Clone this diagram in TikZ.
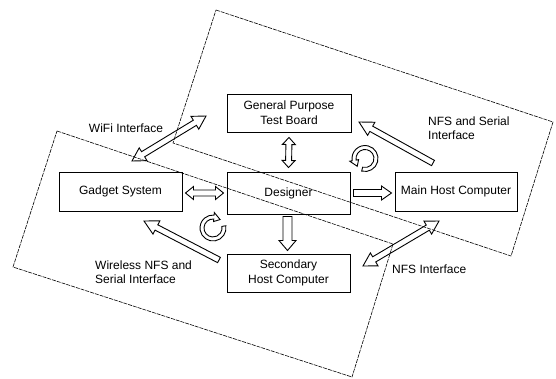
\documentclass[tikz,border=0pt]{standalone}
\usepackage{fontspec}
\setmainfont{Liberation Sans}
\usetikzlibrary{calc}
\begin{document}
\begin{tikzpicture}[x=1pt,y=-1pt,
  box/.style={draw, line width=1pt, inner sep=0pt, align=center, font=\fontsize{12}{15}\selectfont},
  lbl/.style={inner sep=0pt, align=left, font=\fontsize{12}{14}\selectfont},
  zone/.style={line width=0.6pt, dash pattern=on 4pt off 1pt},
  blk/.style={draw, line width=0.9pt},
  sarr/.style n args={3}{to path={let \p1=($(\tikztotarget)-(\tikztostart)$), \n1={veclen(\x1,\y1)}, \n2={atan2(\y1,\x1)} in
    ($(\tikztostart)+(\n2+90:#1)$) -- ($(\tikztostart)+(\n2:\n1-#3)+(\n2+90:#1)$) -- ($(\tikztostart)+(\n2:\n1-#3)+(\n2+90:#2)$) -- (\tikztotarget) -- ($(\tikztostart)+(\n2:\n1-#3)+(\n2-90:#2)$) -- ($(\tikztostart)+(\n2:\n1-#3)+(\n2-90:#1)$) -- ($(\tikztostart)+(\n2-90:#1)$) -- cycle}},
  darr/.style n args={3}{to path={let \p1=($(\tikztotarget)-(\tikztostart)$), \n1={veclen(\x1,\y1)}, \n2={atan2(\y1,\x1)} in
    (\tikztostart) -- ($(\tikztostart)+(\n2:#3)+(\n2+90:#2)$) -- ($(\tikztostart)+(\n2:#3)+(\n2+90:#1)$) -- ($(\tikztostart)+(\n2:\n1-#3)+(\n2+90:#1)$) -- ($(\tikztostart)+(\n2:\n1-#3)+(\n2+90:#2)$) -- (\tikztotarget) -- ($(\tikztostart)+(\n2:\n1-#3)+(\n2-90:#2)$) -- ($(\tikztostart)+(\n2:\n1-#3)+(\n2-90:#1)$) -- ($(\tikztostart)+(\n2:#3)+(\n2-90:#1)$) -- ($(\tikztostart)+(\n2:#3)+(\n2-90:#2)$) -- cycle}}
]
\useasboundingbox (0,0) rectangle (556,378);

% zones
\draw[zone] (216,10) -- (553,122) -- (511,256) -- (173,143) -- cycle;
\draw[zone] (57,131) -- (393,244) -- (352,377) -- (13,267) -- cycle;

% boxes
\node[box, minimum width=124pt, minimum height=38pt] (gptb) at (289,113) {General Purpose\\Test Board};
\node[box, minimum width=123pt, minimum height=42pt] (designer) at (288.5,193) {Designer};
\node[box, minimum width=123pt, minimum height=39pt] (gadget) at (120.5,191.5) {Gadget System};
\node[box, minimum width=122pt, minimum height=39pt] (main) at (456,191.5) {Main Host Computer};
\node[box, minimum width=123pt, minimum height=38pt] (secondary) at (288.5,273) {Secondary\\Host Computer};

% connectors between boxes
\draw[blk, darr={3pt}{6.5pt}{7pt}] ($(gptb.south)+(0,5)$) to ($(designer.north)+(0,-4)$);
\draw[blk, darr={3pt}{6.5pt}{8pt}] ($(gadget.east)+(3,1.5)$) to ($(designer.west)+(-3,0)$);
\draw[blk, sarr={3.5pt}{7pt}{10pt}] ($(designer.east)+(3,0)$) to ($(designer.east -| main.west)+(-3,0)$);
\draw[blk, sarr={4.5pt}{8.5pt}{10pt}] ($(designer.south)+(-1,2)$) to ($(secondary.north)+(-1,-3)$);

% interface arrows
\coordinate (w1) at (132,161); \coordinate (w2) at (206,116);
\draw[blk, darr={3pt}{7.5pt}{13pt}] (w1) to (w2);
\coordinate (s1) at (433,163); \coordinate (s2) at (359,122);
\draw[blk, sarr={3pt}{7.5pt}{14pt}] (s1) to (s2);
\coordinate (r1) at (219,260); \coordinate (r2) at (144,221);
\draw[blk, sarr={3pt}{7.5pt}{14pt}] (r1) to (r2);
\coordinate (n1) at (363,266); \coordinate (n2) at (439,221);
\draw[blk, darr={3pt}{7.5pt}{13pt}] (n1) to (n2);

% circular arrows
\coordinate (c1) at (365,158.5);
\draw[blk] ($(c1)+(255:13pt)$) arc[start angle=255, end angle=550, radius=13pt]
  -- ($(c1)+(550:15.5pt)$) -- ($(c1)+(585:11pt)$) -- ($(c1)+(550:6.5pt)$) -- ($(c1)+(550:9pt)$)
  arc[start angle=550, end angle=255, radius=9pt] -- cycle;
\coordinate (c2) at (213,228);
\draw[blk] ($(c2)+(10:13pt)$) arc[start angle=10, end angle=-275, radius=13pt]
  -- ($(c2)+(-275:15.5pt)$) -- ($(c2)+(-310:11pt)$) -- ($(c2)+(-275:6.5pt)$) -- ($(c2)+(-275:9pt)$)
  arc[start angle=-275, end angle=10, radius=9pt] -- cycle;

% labels
\node[lbl] (wifi) at (126,128) {WiFi Interface};
\node[lbl, anchor=west] (nfsser) at (428,128) {NFS and Serial\\Interface};
\node[lbl, anchor=west] (wnfs) at (95,272) {Wireless NFS and\\Serial Interface};
\node[lbl, anchor=west] (nfsi) at (392,269) {NFS Interface};
\end{tikzpicture}
\end{document}
